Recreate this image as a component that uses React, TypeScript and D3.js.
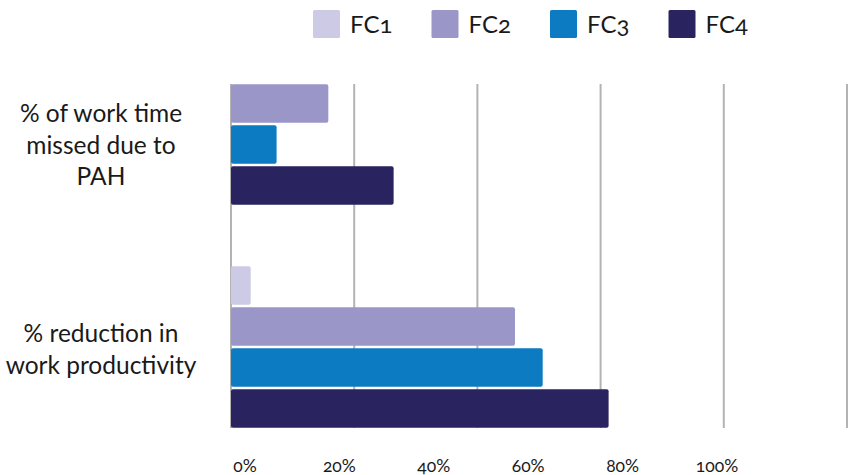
import React from "react";
import * as d3 from "d3";

const categories = [
  ["% of work time", "missed due to", "PAH"],
  ["% reduction in", "work productivity"],
];
const seriesNames = ["FC1", "FC2", "FC3", "FC4"];
const seriesColors = ["#cdcae5", "#9a96c8", "#0c7bc1", "#29245f"];
// values per series, one per category (null = no bar)
const fc1 = [null, 3.2];
const fc2 = [15.8, 46.1];
const fc3 = [7.4, 50.6];
const fc4 = [26.4, 61.3];
const seriesValues = [fc1, fc2, fc3, fc4];
const tickValues = [0, 20, 40, 60, 80, 100];

const W = 855;
const H = 475;
const FONT = "Lato, 'Open Sans', sans-serif";

export default function App() {
  const x = d3.scaleLinear().domain([0, 100]).range([231, 847]);
  const tickLabelX = d3.scaleLinear().domain([0, 100]).range([245, 717]);
  const catKeys = categories.map((_, i) => String(i));
  const y0 = d3
    .scaleBand<string>()
    .domain(catKeys)
    .range([42, 429])
    .paddingInner(59 / 223)
    .paddingOuter(0);
  const y1 = d3
    .scaleBand<string>()
    .domain(seriesNames)
    .range([0, y0.bandwidth()])
    .paddingInner(0.06)
    .paddingOuter(0.03);

  const gridTop = 84;
  const gridBottom = 428;

  return (
    <svg
      width={W}
      height={H}
      style={{ position: "absolute", left: 0, top: 0, background: "#fff" }}
      fontFamily={FONT}
    >
      {/* legend */}
      {seriesNames.map((s, i) => (
        <g key={s} transform={`translate(${313 + i * 118.5},0)`}>
          <rect x={0} y={10} width={27} height={28} rx={1.5} fill={seriesColors[i]} />
          <text
            x={37}
            y={33}
            fontSize={24}
            fill="#1a1a1a"
            style={{ fontVariantNumeric: "oldstyle-nums" }}
          >
            {s}
          </text>
        </g>
      ))}

      {/* gridlines */}
      {tickValues.map((t) => (
        <line
          key={t}
          x1={x(t)}
          x2={x(t)}
          y1={gridTop}
          y2={gridBottom}
          stroke="#b3b3b3"
          strokeWidth={2}
        />
      ))}

      {/* bars */}
      {catKeys.map((c, ci) => (
        <g key={c} transform={`translate(0,${y0(c)})`}>
          {seriesNames.map((s, si) => {
            const v = seriesValues[si][ci];
            if (v == null) return null;
            return (
              <rect
                key={s}
                x={x(0)}
                y={y1(s)}
                width={x(v) - x(0)}
                height={y1.bandwidth()}
                rx={2}
                fill={seriesColors[si]}
              />
            );
          })}
        </g>
      ))}

      {/* category labels */}
      {categories.map((lines, ci) => {
        const top = ci === 0 ? 122 : 342;
        return (
          <text key={ci} textAnchor="middle" fontSize={24.5} fill="#1a1a1a">
            {lines.map((l, li) => (
              <tspan key={li} x={101} y={top + li * 31.5}>
                {l}
              </tspan>
            ))}
          </text>
        );
      })}

      {/* tick labels */}
      {tickValues.map((t) => (
        <text
          key={t}
          x={tickLabelX(t)}
          y={472}
          textAnchor="middle"
          fontSize={17.5}
          fill="#1a1a1a"
          style={{ fontVariantNumeric: "oldstyle-nums" }}
        >
          {`${t}%`}
        </text>
      ))}
    </svg>
  );
}
